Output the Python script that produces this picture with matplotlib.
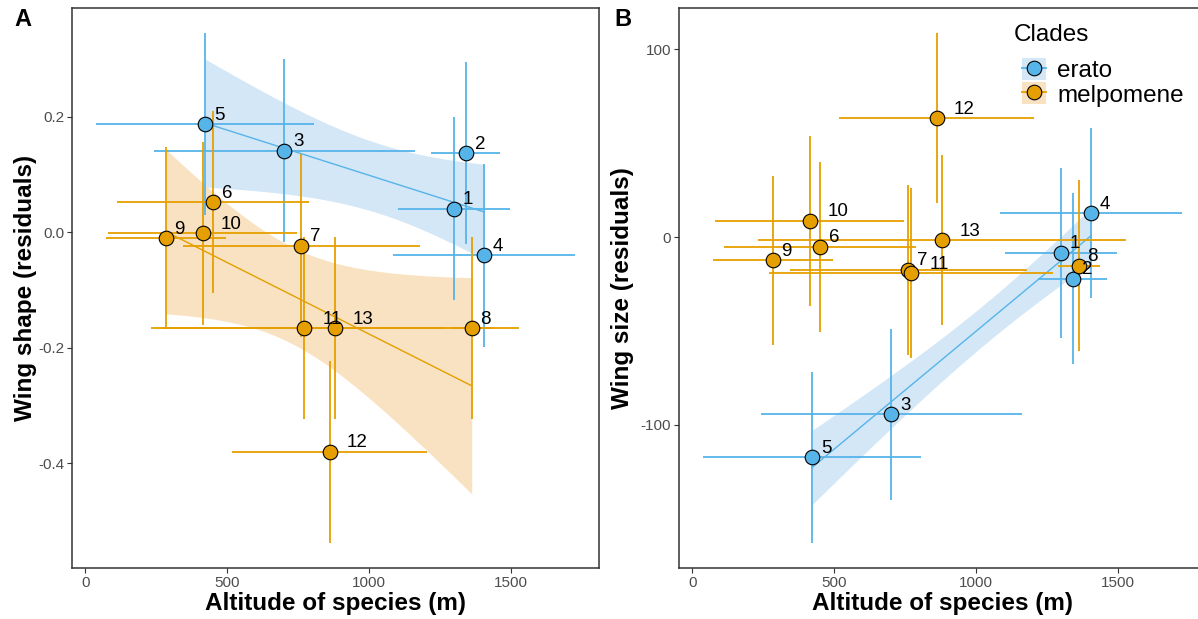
import numpy as np
import matplotlib
matplotlib.use('Agg')
from matplotlib import pyplot as plt
from matplotlib.patches import Patch
from matplotlib.lines import Line2D
from matplotlib.legend_handler import HandlerTuple

plt.rcParams['font.family'] = ['Liberation Sans', 'DejaVu Sans']

# species data
species = ['1', '2', '3', '4', '5', '6', '7', '8', '9', '10', '11', '12', '13']
clade = ['erato'] * 5 + ['melpomene'] * 8
altitude = [1300, 1341, 702, 1406, 423, 451, 762, 1362, 284, 415, 772, 861, 880]
altitude_err = [198, 121, 461, 320, 385, 338, 417, 74, 211, 333, 500, 343, 649]
shape = [0.041, 0.137, 0.141, -0.040, 0.187, 0.052, -0.023, -0.166, -0.010, -0.002, -0.166, -0.380, -0.166]
shape_err = [0.158, 0.158, 0.158, 0.158, 0.157, 0.158, 0.158, 0.157, 0.158, 0.158, 0.157, 0.157, 0.157]
size = [-8.2, -22.0, -94.3, 12.8, -117.2, -5.1, -17.4, -15.1, -12.4, 8.7, -19.1, 63.3, -1.6]
size_err = [45.3, 45.4, 45.4, 45.2, 45.4, 45.3, 45.3, 45.3, 45.2, 45.2, 45.3, 45.2, 45.3]

clades = ['erato', 'melpomene']
colors = {'erato': '#56B4E9', 'melpomene': '#E69F00'}
ribbon = {'erato': '#D3E7F7', 'melpomene': '#F8E2C2'}

alt = np.array(altitude)
alt_e = np.array(altitude_err)
grp = np.array(clade)


def add_fit(ax, x, y, c):
    # lm fit with a 95% band, like geom_smooth(method='lm')
    slope, icpt = np.polyfit(x, y, 1)
    res = y - (slope * x + icpt)
    s = np.sqrt(np.sum(res ** 2) / (len(x) - 2))
    xs = np.linspace(x.min(), x.max(), 100)
    se = s * np.sqrt(1 / len(x) + (xs - x.mean()) ** 2 / np.sum((x - x.mean()) ** 2))
    yf = slope * xs + icpt
    ax.fill_between(xs, yf - 1.96 * se, yf + 1.96 * se, color=ribbon[c], lw=0, zorder=1)
    ax.plot(xs, yf, color=colors[c], lw=1.0, zorder=2)


def panel(ax, yvals, yerr, fits):
    y = np.array(yvals)
    ye = np.array(yerr)
    for c in fits:
        m = grp == c
        add_fit(ax, alt[m], y[m], c)
    for c in clades:
        m = grp == c
        ax.errorbar(alt[m], y[m], xerr=alt_e[m], yerr=ye[m], fmt='none',
                    ecolor=colors[c], elinewidth=1.3, capsize=0, zorder=3)
    for c in clades:
        m = grp == c
        ax.plot(alt[m], y[m], 'o', ms=10.5, mfc=colors[c], mec='black', mew=0.8, zorder=4)
    for i, lab in enumerate(species):
        ax.annotate(lab, (alt[i], y[i]), xytext=(14 * len(lab), 9),
                    textcoords='offset pixels', ha='center', va='center',
                    fontsize=13.5, color='black', zorder=5)
    ax.margins(0.05)
    ax.set_xticks([0, 500, 1000, 1500])
    ax.tick_params(colors='#333333', labelcolor='#4D4D4D', labelsize=11,
                   length=3.5, width=0.8, pad=2)
    for sp in ax.spines.values():
        sp.set_color('#333333')
        sp.set_linewidth(1.1)
    ax.set_xlabel('Altitude of species (m)', fontsize=17.5, fontweight='bold', labelpad=2)


fig = plt.figure(figsize=(11.98, 6.19), dpi=100)
axA = fig.add_axes([72 / 1198, 1 - 568 / 619, 527 / 1198, 560 / 619])
axB = fig.add_axes([679 / 1198, 1 - 568 / 619, 527 / 1198, 560 / 619])

panel(axA, shape, shape_err, ['erato', 'melpomene'])
axA.set_yticks([-0.4, -0.2, 0.0, 0.2])
axA.set_yticklabels(['-0.4', '-0.2', '0.0', '0.2'])
axA.set_ylabel('Wing shape (residuals)', fontsize=17.5, fontweight='bold', va='center')
axA.yaxis.set_label_coords(-0.088, 0.5)

panel(axB, size, size_err, ['erato'])
axB.set_yticks([-100, 0, 100])
axB.set_yticklabels(['-100', '0', '100'])
axB.set_ylabel('Wing size (residuals)', fontsize=17.5, fontweight='bold', va='center')
axB.yaxis.set_label_coords(-0.108, 0.5)

fig.text(14 / 1198, 1 - 19 / 619, 'A', fontsize=17, fontweight='bold', va='center', ha='left')
fig.text(614 / 1198, 1 - 19 / 619, 'B', fontsize=17, fontweight='bold', va='center', ha='left')

# legend: title drawn separately so the gap to the keys matches
fig.text(1014 / 1198, 1 - 35 / 619, 'Clades', fontsize=17.5, va='center', ha='left')
handles = []
for c in clades:
    handles.append((Patch(facecolor=ribbon[c], edgecolor='none'),
                    Line2D([], [], color=colors[c], lw=1.3, marker='o', ms=10.5,
                           mfc=colors[c], mec='black', mew=0.8)))
leg = fig.legend(handles, clades, loc='upper left',
                 bbox_to_anchor=(1010 / 1198, 1 - 46 / 619), frameon=False,
                 handler_map={tuple: HandlerTuple(ndivide=1)},
                 fontsize=17.5, handlelength=1.0, handleheight=1.0,
                 labelspacing=0.0, handletextpad=0.45, borderpad=0)

fig.savefig('out.png', dpi=100)
